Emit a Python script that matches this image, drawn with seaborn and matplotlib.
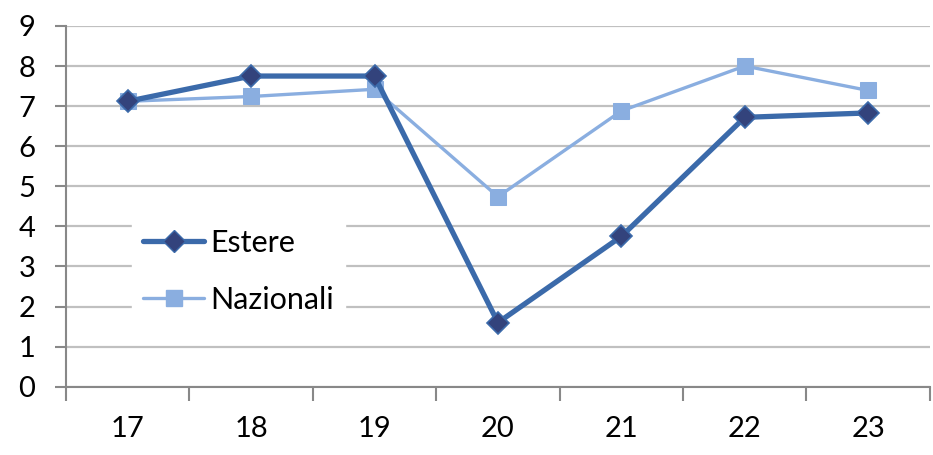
import pandas as pd
import numpy as np
import seaborn as sns
from matplotlib import pyplot as plt
from matplotlib.lines import Line2D

years = ["17", "18", "19", "20", "21", "22", "23"]
estere = [7.12, 7.75, 7.75, 1.6, 3.75, 6.72, 6.83]
nazionali = [7.12, 7.24, 7.42, 4.74, 6.88, 8.0, 7.39]

sns.set_theme(style="white")
plt.rcParams['font.family'] = ['Lato', 'DejaVu Sans']

df = pd.DataFrame({
  'pos': list(range(len(years))) * 2,
  'value': estere + nazionali,
  'serie': ['Estere'] * len(years) + ['Nazionali'] * len(years),
})

fig = plt.figure(figsize=(9.33, 4.55), dpi=100)
ax = fig.add_axes([0.0707, 0.150, 0.926, 0.793])

# horizontal gridlines
for v in range(0, 10):
  ax.axhline(v, color='#c0c0c0', lw=1.6, zorder=0)

dark = '#3b6aaa'
light = '#8aaee0'
sns.lineplot(data=df[df.serie == 'Nazionali'], x='pos', y='value', ax=ax,
             color=light, lw=2.4, marker='s', markersize=11,
             markeredgecolor=light, markerfacecolor=light, zorder=3)
sns.lineplot(data=df[df.serie == 'Estere'], x='pos', y='value', ax=ax,
             color=dark, lw=3.8, marker='D', markersize=11.5,
             markeredgecolor=dark, markerfacecolor='#33437c', markeredgewidth=1.2,
             zorder=4)

ax.set_xlim(-0.5, len(years) - 0.5)
ax.set_ylim(0, 9)
ax.set_yticks(range(0, 10))
ax.set_xticks(np.arange(-0.5, len(years), 1))
ax.set_xticklabels([])
ax.set_xticks(range(len(years)), minor=True)
ax.set_xticklabels(years, minor=True)
ax.tick_params(axis='x', which='major', direction='out', length=10, width=1.5, color='#888888', bottom=True)
ax.tick_params(axis='x', which='minor', length=0, pad=21, labelsize=21, labelcolor='black')
ax.tick_params(axis='y', direction='out', length=8, width=1.5, color='#888888', left=True,
               labelsize=21, pad=14, labelcolor='black')
ax.set_xlabel('')
ax.set_ylabel('')

for s in ['top', 'right']:
  ax.spines[s].set_visible(False)
for s in ['left', 'bottom']:
  ax.spines[s].set_color('#888888')
  ax.spines[s].set_linewidth(1.5)

handles = [
  Line2D([], [], color=dark, lw=3.8, marker='D', markersize=11.5,
         markerfacecolor='#33437c', markeredgecolor=dark),
  Line2D([], [], color=light, lw=2.4, marker='s', markersize=11,
         markerfacecolor=light, markeredgecolor=light),
]
leg = ax.legend(handles, ['Estere', 'Nazionali'], loc='upper left',
                bbox_to_anchor=(0.077, 0.467), frameon=True, fontsize=22,
                handlelength=2.0, handletextpad=0.2, labelspacing=0.95,
                borderpad=0.35, borderaxespad=0)
leg.get_frame().set_facecolor('white')
leg.get_frame().set_edgecolor('white')
leg.get_frame().set_alpha(1)
for t in leg.get_texts():
  t.set_color('black')

fig.savefig('out.png', dpi=100)
